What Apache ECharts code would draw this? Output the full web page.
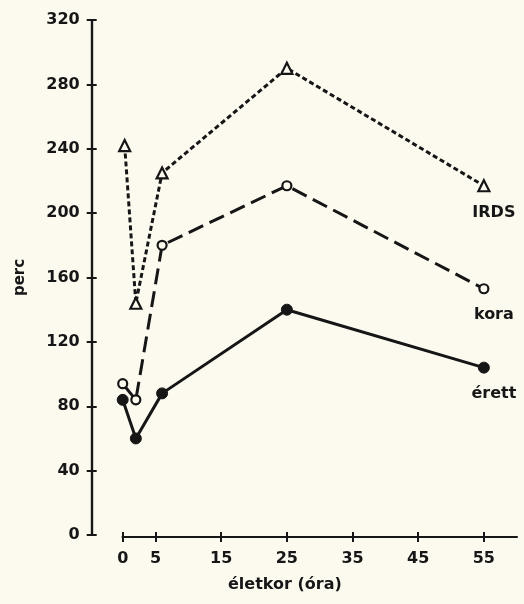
<!DOCTYPE html>
<html>
<head>
<meta charset="utf-8">
<script src="https://cdn.jsdelivr.net/npm/echarts@6/dist/echarts.min.js"></script>
<style>
html,body{margin:0;padding:0;background:#fcf9ef;}
#c{width:524px;height:604px;}
</style>
</head>
<body>
<div id="c"></div>
<script>
// Data
const xTickValues = [0, 5, 15, 25, 35, 45, 55];
const yTickValues = [0, 40, 80, 120, 160, 200, 240, 280, 320];
const ages = [0, 2, 6, 25, 55];
const irdsAges = [0.3, 2, 6, 25, 55];
const irds = [242, 144, 225, 290, 217];
const kora = [94, 84, 180, 217, 153];
const erett = [84, 60, 88, 140, 104];
const seriesNames = ['IRDS', 'kora', 'érett'];
const xAxisName = 'életkor (óra)';
const yAxisName = 'perc';

const ink = '#161616';
const bg = '#fcf9ef';
const font = 'DejaVu Sans';

function pts(xs, ys, name) {
  return ys.map((v, i) => {
    const item = { value: [xs[i], v] };
    if (i === ys.length - 1) {
      item.label = {
        show: true, formatter: name, position: 'bottom', distance: 12,
        offset: [10, 0], color: ink, fontFamily: font, fontWeight: 'bold', fontSize: 16
      };
    }
    return item;
  });
}

const chart = echarts.init(document.getElementById('c'), null, { renderer: 'canvas' });

const xBase = {
  type: 'value', min: 0, max: 60, position: 'bottom', offset: 2,
  splitLine: { show: false },
  axisLine: { show: true, onZero: false, lineStyle: { color: ink, width: 2.2 } },
  axisTick: { show: true, length: 5, lineStyle: { color: ink, width: 2 }, customValues: xTickValues },
  axisLabel: { show: false }
};
const yBase = {
  type: 'value', min: 0, max: 320, interval: 40, position: 'left', offset: 31,
  splitLine: { show: false },
  axisLine: { show: true, onZero: false, lineStyle: { color: ink, width: 2.2 } },
  axisTick: { show: true, length: 5, lineStyle: { color: ink, width: 2 }, customValues: yTickValues },
  axisLabel: { show: false }
};

chart.setOption({
  backgroundColor: bg,
  animation: false,
  grid: { left: 122.7, right: 7.3, top: 20, bottom: 69, containLabel: false },
  xAxis: [
    Object.assign({}, xBase, {
      axisTick: Object.assign({}, xBase.axisTick, { inside: false }),
      axisLabel: {
        show: true, customValues: xTickValues, margin: 14,
        color: ink, fontFamily: font, fontWeight: 'bold', fontSize: 16
      }
    }),
    Object.assign({}, xBase, {
      axisTick: Object.assign({}, xBase.axisTick, { inside: true })
    })
  ],
  yAxis: [
    Object.assign({}, yBase, {
      axisTick: Object.assign({}, yBase.axisTick, { inside: false }),
      axisLabel: {
        show: true, customValues: yTickValues, margin: 12,
        color: ink, fontFamily: font, fontWeight: 'bold', fontSize: 16
      },
      name: yAxisName, nameLocation: 'middle', nameRotate: 90, nameGap: 64,
      nameTextStyle: { color: ink, fontFamily: font, fontWeight: 'bold', fontSize: 15, padding: [0, 0, 0, 0] }
    }),
    Object.assign({}, yBase, {
      axisTick: Object.assign({}, yBase.axisTick, { inside: true })
    })
  ],
  graphic: [{
    type: 'text', left: 228, top: 577,
    style: { text: xAxisName, fill: ink, font: 'bold 16px "DejaVu Sans"' }
  }],
  series: [
    {
      name: seriesNames[0], type: 'line', data: pts(irdsAges, irds, seriesNames[0]),
      symbol: 'triangle', symbolSize: 11,
      lineStyle: { color: ink, width: 3, type: [5, 3] },
      itemStyle: { color: bg, borderColor: ink, borderWidth: 2.2 }
    },
    {
      name: seriesNames[1], type: 'line', data: pts(ages, kora, seriesNames[1]),
      symbol: 'circle', symbolSize: 9,
      lineStyle: { color: ink, width: 3, type: [16, 7] },
      itemStyle: { color: bg, borderColor: ink, borderWidth: 2.2 }
    },
    {
      name: seriesNames[2], type: 'line', data: pts(ages, erett, seriesNames[2]),
      symbol: 'circle', symbolSize: 11,
      lineStyle: { color: ink, width: 3 },
      itemStyle: { color: ink, borderColor: ink, borderWidth: 1 }
    }
  ]
});
</script>
</body>
</html>
